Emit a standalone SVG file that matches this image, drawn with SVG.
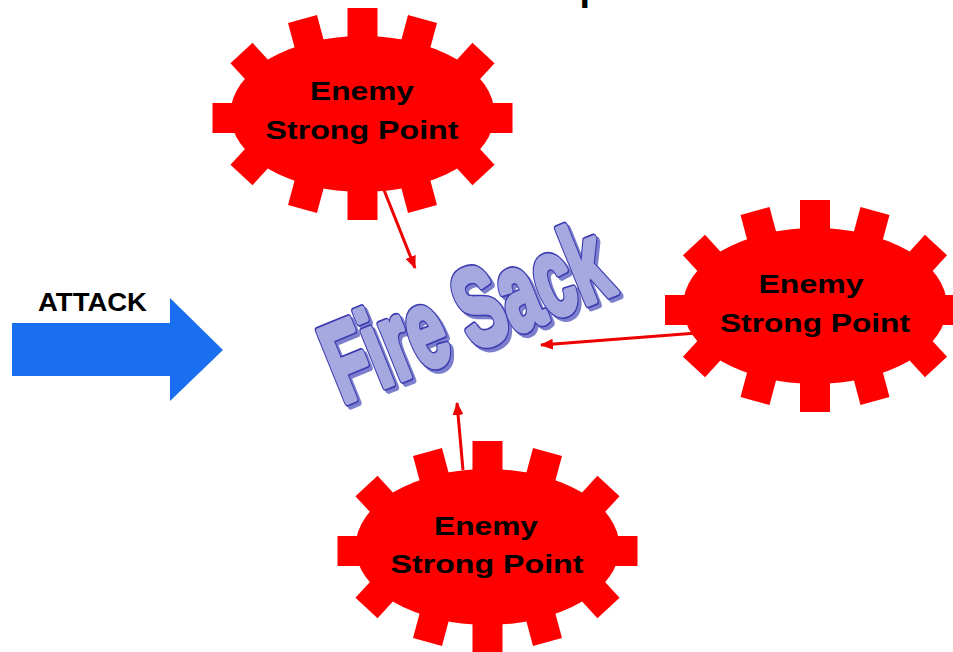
<svg xmlns="http://www.w3.org/2000/svg" xmlns:xlink="http://www.w3.org/1999/xlink" width="953" height="652" viewBox="0 0 953 652">
<style>
.lbl{font-family:"Liberation Sans",Arial,sans-serif;font-weight:bold;fill:#000;text-anchor:middle;font-size:25.5px}
.gear{fill:#ff0000}
.conn{stroke:#ee0000;stroke-width:3;fill:none;marker-end:url(#ah)}
.fs{font-family:"Liberation Sans",Arial,sans-serif;font-weight:bold;font-size:100px;stroke-linejoin:round}
</style>
<defs>
<marker id="ah" viewBox="0 0 12 10" refX="11" refY="5" markerWidth="13" markerHeight="11" markerUnits="userSpaceOnUse" orient="auto">
<path d="M0,0 L12,5 L0,10 z" fill="#ee0000"/>
</marker>
<g id="gearShape" class="gear">
<ellipse cx="0" cy="0" rx="132" ry="78"/>
<rect x="-45" y="-15" width="45" height="30" transform="translate(0,-106) rotate(-90)"/>
<rect x="-45" y="-15" width="45" height="30" transform="translate(0,106) rotate(90)"/>
<rect x="-45" y="-15" width="45" height="30" transform="translate(150,4) rotate(0)"/>
<rect x="-45" y="-15" width="45" height="30" transform="translate(-150,4) rotate(180)"/>
<rect x="-45" y="-15" width="45" height="30" transform="translate(60,-95) rotate(-75)"/>
<rect x="-45" y="-15" width="45" height="30" transform="translate(-60,-95) rotate(-105)"/>
<rect x="-45" y="-15" width="45" height="30" transform="translate(60,95) rotate(75)"/>
<rect x="-45" y="-15" width="45" height="30" transform="translate(-60,95) rotate(105)"/>
<rect x="-45" y="-15" width="45" height="30" transform="translate(121,-61) rotate(-47.5)"/>
<rect x="-45" y="-15" width="45" height="30" transform="translate(-121,-61) rotate(-132.5)"/>
<rect x="-45" y="-15" width="45" height="30" transform="translate(121,61) rotate(47.5)"/>
<rect x="-45" y="-15" width="45" height="30" transform="translate(-121,61) rotate(132.5)"/>
</g>
</defs>
<rect width="953" height="652" fill="#ffffff"/>
<text x="579.5" y="0" font-family="Liberation Sans, Arial, sans-serif" font-weight="bold" font-size="38">p</text>

<g id="connectors">
<line class="conn" x1="384" y1="190" x2="415" y2="268"/>
<line class="conn" x1="697" y1="333" x2="541" y2="345"/>
<line class="conn" x1="463" y1="470" x2="457" y2="403"/>
</g>

<g id="attack">
<polygon points="12,323 170,323 170,298 223,350 170,401 170,376 12,376" fill="#1a6ff0"/>
<text x="38" y="310.5" font-family="Liberation Sans, Arial, sans-serif" font-weight="bold" font-size="25" textLength="109" lengthAdjust="spacingAndGlyphs">ATTACK</text>
</g>

<g id="fire-sack">
<text class="fs" x="0" y="0" fill="#7c7fcc" stroke="#7c7fcc" stroke-width="8" transform="matrix(0.6184,-0.2519,0.419,1.0335,345.5,407)">Fire Sack</text>
<text class="fs" x="0" y="0" fill="#3c3cb0" stroke="#3c3cb0" stroke-width="8" transform="matrix(0.6184,-0.2519,0.419,1.0335,342.5,404)">Fire Sack</text>
<text class="fs" x="0" y="0" fill="#a6a9e0" stroke="#a6a9e0" stroke-width="5" transform="matrix(0.6184,-0.2519,0.419,1.0335,342.5,404)">Fire Sack</text>
</g>

<g id="enemy-top">
<use xlink:href="#gearShape" href="#gearShape" x="362.5" y="114"/>
<text class="lbl" x="362" y="100" textLength="104" lengthAdjust="spacingAndGlyphs">Enemy</text>
<text class="lbl" x="362" y="139" textLength="193" lengthAdjust="spacingAndGlyphs">Strong Point</text>
</g>

<g id="enemy-right">
<use xlink:href="#gearShape" href="#gearShape" x="815" y="306"/>
<text class="lbl" x="811" y="293" textLength="105" lengthAdjust="spacingAndGlyphs">Enemy</text>
<text class="lbl" x="815" y="332" textLength="190" lengthAdjust="spacingAndGlyphs">Strong Point</text>
</g>

<g id="enemy-bottom">
<use xlink:href="#gearShape" href="#gearShape" x="487.5" y="547"/>
<text class="lbl" x="486" y="535" textLength="104" lengthAdjust="spacingAndGlyphs">Enemy</text>
<text class="lbl" x="487" y="573" textLength="193" lengthAdjust="spacingAndGlyphs">Strong Point</text>
</g>
</svg>
